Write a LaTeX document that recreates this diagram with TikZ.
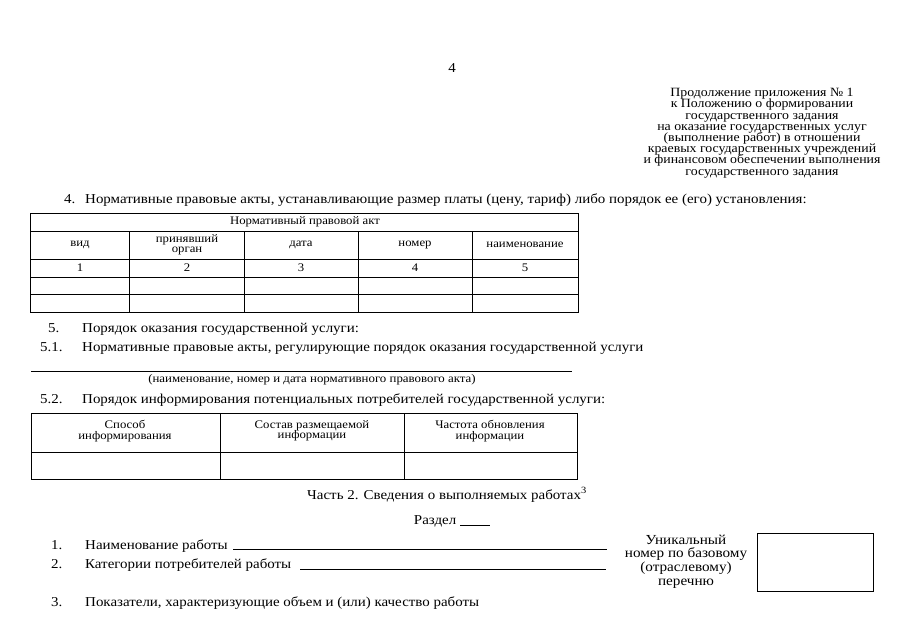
\documentclass[tikz,border=0pt]{standalone}
\usepackage{fontspec}
\setmainfont{Liberation Serif}[FakeStretch=1.1]
\tikzset{
  txt/.style={inner sep=0pt,anchor=base west,font=\fontsize{13.6}{14}\selectfont},
  cell/.style={inner sep=0pt,align=center,font=\fontsize{11.6}{10.5}\selectfont,
    execute at begin node={\lineskiplimit=-10pt\relax}},
  hdr/.style={inner sep=0pt,align=center,font=\fontsize{12.6}{11.2}\selectfont,
    execute at begin node={\lineskiplimit=-10pt\relax}},
  rule/.style={line width=0.6pt}
}
\begin{document}
\begin{tikzpicture}[x=1pt,y=-1pt]
	\useasboundingbox (0,0) rectangle (905,640);
	\node[txt,anchor=base] (pnum) at (452,72) {4};
	\node[hdr] (annex) at (762,133) {Продолжение приложения № 1\\к Положению о формировании\\государственного задания\\на оказание государственных услуг\\(выполнение работ) в отношении\\краевых государственных учреждений\\и финансовом обеспечении выполнения\\государственного задания};
	% item 4 and its table
	\node[txt] (n4) at (64,203) {4.};
	\node[txt] (t4) at (85,203) {Нормативные правовые акты, устанавливающие размер платы (цену, тариф) либо порядок ее (его) установления:};
	\draw[rule] (30,213) rectangle (578,312);
	\draw[rule] (30,231) -- (578,231);
	\draw[rule] (30,259) -- (578,259);
	\draw[rule] (30,277) -- (578,277);
	\draw[rule] (30,294.5) -- (578,294.5);
	\foreach \cx in {129,244,358,472}
		\draw[rule] (\cx,231) -- (\cx,312);
	\node[cell] (akt) at (305,222) {Нормативный правовой акт};
	\node[cell] (vid) at (80,245) {вид};
	\node[cell] (organ) at (187,245) {принявший\\орган};
	\node[cell] (data) at (301,245) {дата};
	\node[cell] (nomer) at (415,245) {номер};
	\node[cell] (naim) at (525,245) {наименование};
	\foreach \cx/\num in {80/1,187/2,301/3,415/4,525/5}
		\node[cell] (num\num) at (\cx,268) {\num};
	% item 5
	\node[txt] (n5) at (48,332) {5.};
	\node[txt] (t5) at (82,332) {Порядок оказания государственной услуги:};
	\node[txt] (n51) at (40,351) {5.1.};
	\node[txt] (t51) at (82,351) {Нормативные правовые акты, регулирующие порядок оказания государственной услуги};
	\coordinate (ul1) at (31,371);
	\coordinate (ul2) at (572,371);
	\draw[line width=0.5pt] (ul1) -- (ul2);
	\node[cell,font=\fontsize{11.7}{10}\selectfont] (capt) at (312,380) {(наименование, номер и дата нормативного правового акта)};
	\node[txt] (n52) at (40,403) {5.2.};
	\node[txt] (t52) at (82,403) {Порядок информирования потенциальных потребителей государственной услуги:};
	\draw[rule] (31,413) rectangle (577,479);
	\draw[rule] (31,452) -- (577,452);
	\draw[rule] (220,413) -- (220,479);
	\draw[rule] (404,413) -- (404,479);
	\node[cell] (sposob) at (125,431) {Способ\\информирования};
	\node[cell] (sostav) at (312,431) {Состав размещаемой\\информации};
	\node[cell] (chast) at (490,431) {Частота обновления\\информации};
	% part 2
	\node[txt,anchor=base] (part2) at (447,499) {Часть 2. Сведения о выполняемых работах\textsuperscript{3}};
	\node[txt,anchor=base] (razdel) at (452,524) {Раздел \underline{\hspace{30pt}}};
	\node[txt] (p1) at (51,549) {1.};
	\node[txt] (p1t) at (85,549) {Наименование работы};
	\draw[line width=0.5pt] (233,549) -- (607,549);
	\node[txt] (p2) at (51,568) {2.};
	\node[txt] (p2t) at (85,568) {Категории потребителей работы};
	\draw[line width=0.5pt] (300,569) -- (606,569);
	\node[hdr,font=\fontsize{13.8}{13.6}\selectfont] (unik) at (686,561.5) {Уникальный\\номер по базовому\\(отраслевому)\\перечню};
	\draw[rule] (757,533) rectangle (873,591);
	\node[txt] (p3) at (51,606) {3.};
	\node[txt] (p3t) at (85,606) {Показатели, характеризующие объем и (или) качество работы};
\end{tikzpicture}
\end{document}
